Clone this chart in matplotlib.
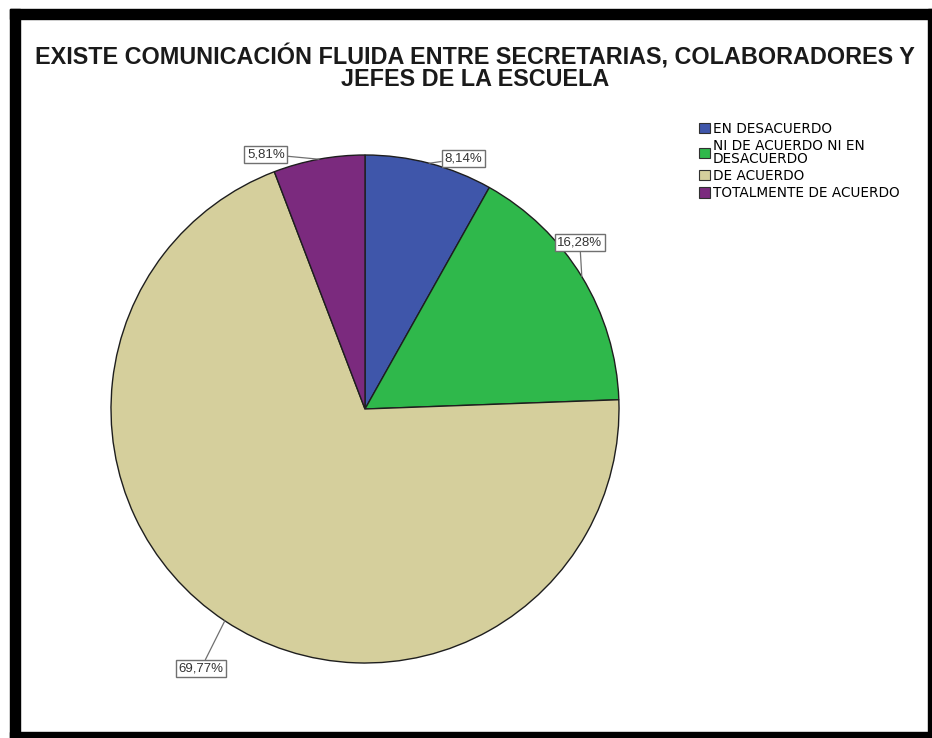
import matplotlib
matplotlib.use("Agg")
import matplotlib.pyplot as plt
from matplotlib.patches import Rectangle, Patch
import numpy as np

plt.rcParams["font.family"] = ["Liberation Sans", "DejaVu Sans"]

categories = ["EN DESACUERDO", "NI DE ACUERDO NI EN\nDESACUERDO", "DE ACUERDO", "TOTALMENTE DE ACUERDO"]
percentages = [8.14, 16.28, 69.77, 5.81]
value_labels = ["8,14%", "16,28%", "69,77%", "5,81%"]
colors = ["#3F56AA", "#2FB84B", "#D5CF9C", "#7B2A7E"]
title = "EXISTE COMUNICACIÓN FLUIDA ENTRE SECRETARIAS, COLABORADORES Y\nJEFES DE LA ESCUELA"

# label box offsets from the wedge rim, in pixels (x right, y up)
label_offsets = [(34, 5), (-2, 34), (-24, -48), (-53, 5)]

W, H = 932, 738
fig = plt.figure(figsize=(W / 100, H / 100), dpi=100)
ax = fig.add_axes([0, 0, 1, 1])

cx, cy, r = 365, H - 409, 254
wedges, _ = ax.pie(percentages, colors=colors, startangle=90, counterclock=False,
                   center=(cx, cy), radius=r,
                   wedgeprops=dict(edgecolor="#1e1e1e", linewidth=1.0))
ax.set_xlim(0, W)
ax.set_ylim(0, H)
ax.set_aspect("equal")
ax.axis("off")

for w, lab, (dx, dy) in zip(wedges, value_labels, label_offsets):
    ang = np.deg2rad((w.theta1 + w.theta2) / 2)
    px, py = cx + r * np.cos(ang), cy + r * np.sin(ang)
    ax.annotate(lab, xy=(px, py), xytext=(px + dx, py + dy),
                ha="center", va="center", fontsize=9.5, color="#333333",
                bbox=dict(boxstyle="square,pad=0.2", fc="white", ec="#707070", lw=1.0),
                arrowprops=dict(arrowstyle="-", color="#707070", lw=0.9,
                                shrinkA=0, shrinkB=0))

fig.text(475 / W, 1 - 44 / H, title, ha="center", va="top", fontweight="bold",
         fontsize=16.8, color="#1a1a1a", linespacing=0.92)

handles = [Patch(facecolor=c, edgecolor="#303030", lw=0.8) for c in colors]
leg = fig.legend(handles, categories, loc="upper left",
                 bbox_to_anchor=(699 / W, 1 - 122 / H), frameon=False,
                 prop=dict(family="DejaVu Sans", size=9.8), handlelength=0.8,
                 handleheight=0.8, handletextpad=0.2, labelspacing=0.24,
                 borderaxespad=0, borderpad=0)
for t in leg.get_texts():
    t.set_linespacing(0.85)

# black frame around the chart
frame = [
    (10, 0, 10, H - 9),          # left
    (10, H - 19, W - 10, 10),    # top
    (W - 4, 0, 4, H - 9),        # right
    (10, 0, W - 10, 6),          # bottom
]
for x, y, w, h in frame:
    fig.patches.append(Rectangle((x / W, y / H), w / W, h / H,
                                 transform=fig.transFigure, color="black", zorder=10))

fig.savefig("out.png", dpi=100, facecolor="white")
